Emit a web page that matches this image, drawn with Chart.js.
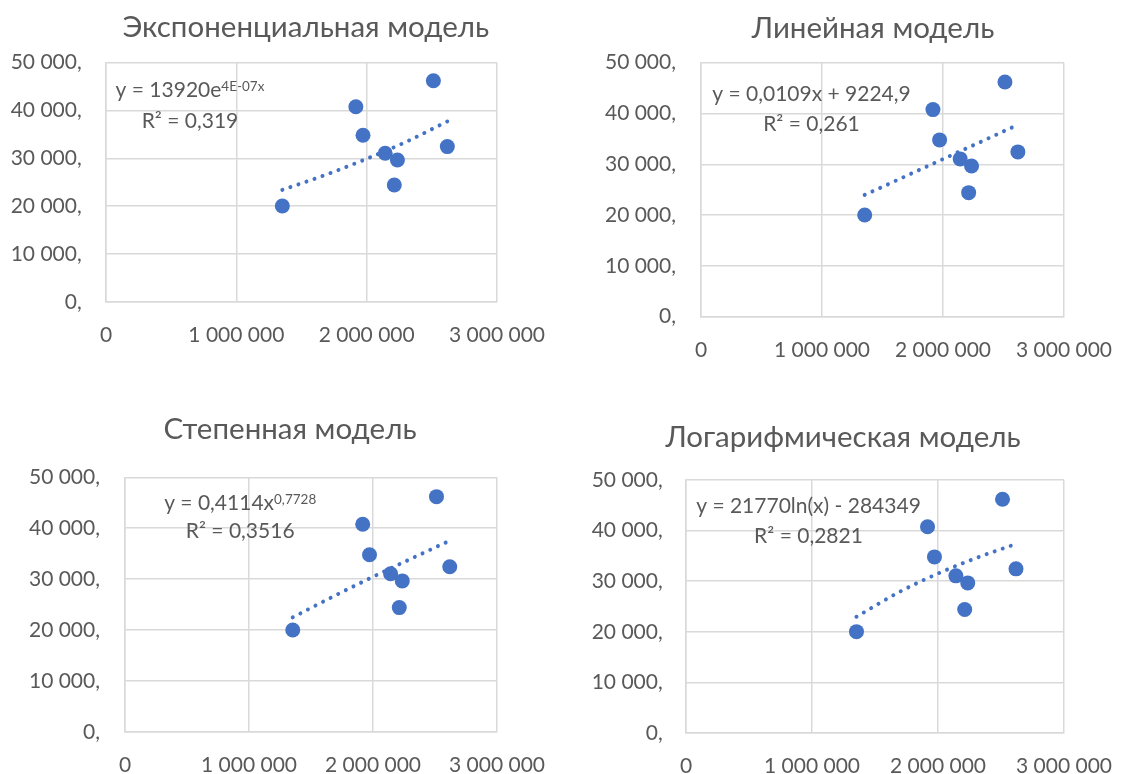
<!DOCTYPE html>
<html>
<head>
<meta charset="utf-8">
<title>Модели регрессии</title>
<script src="https://cdn.jsdelivr.net/npm/chart.js@4"></script>
<style>
  body { margin: 0; background: #fff; }
  .panel { position: absolute; }
</style>
</head>
<body>
<div class="panel" id="p1"><canvas id="c1"></canvas></div>
<div class="panel" id="p2"><canvas id="c2"></canvas></div>
<div class="panel" id="p3"><canvas id="c3"></canvas></div>
<div class="panel" id="p4"><canvas id="c4"></canvas></div>
<script>
// наблюдения (одни и те же для всех четырёх моделей)
const xValues = [1353000, 1917000, 1972000, 2142000, 2236000, 2212000, 2512000, 2619000];
const yValues = [20030, 40770, 34800, 31060, 29660, 24420, 46200, 32440];

const xTickLabels = ["0", "1 000 000", "2 000 000", "3 000 000"];
const yTickLabels = ["0,", "10 000,", "20 000,", "30 000,", "40 000,", "50 000,"];

const titles = ["Экспоненциальная модель", "Линейная модель", "Степенная модель", "Логарифмическая модель"];

// линии тренда
const expTrendX = [1353000, 1700000, 2000000, 2300000, 2619000];
const expTrendY = [23400, 26700, 29900, 33400, 37700];
const linTrendX = [1353000, 2619000];
const linTrendY = [23970, 37770];
const powTrendX = [1353000, 1700000, 2000000, 2300000, 2619000];
const powTrendY = [22510, 26860, 30460, 33940, 37560];
const logTrendX = [1353000, 1700000, 2000000, 2300000, 2619000];
const logTrendY = [22970, 27960, 31510, 34550, 37370];

// уравнения; всё после "^" пишется верхним индексом
const expEquation = ["y = 13920e^4E-07x", "R² = 0,319"];
const linEquation = ["y = 0,0109x + 9224,9", "R² = 0,261"];
const powEquation = ["y = 0,4114x^0,7728", "R² = 0,3516"];
const logEquation = ["y = 21770ln(x) - 284349", "R² = 0,2821"];

const FONT = 'Lato, "Noto Sans", sans-serif';
const TEXT = "#595959";
const GRID = "#D9D9D9";
const BLUE = "#4472C4";
const TICK_SIZE = 21;
const TITLE_SIZE = 29.5;
const SUP_SIZE = 13.5;

// размещение панелей: рамка, область построения, центр заголовка, центр уравнения
const panels = [
  { id: "c1", left: 0, top: 0, width: 566, height: 400,
    area: { left: 106, right: 515, top: 62.5, bottom: 302 },
    titleX: 305.8, titleY: 26.5, yLabelRight: 81.7, eqX: 190, eqY: [89.5, 120] },
  { id: "c2", left: 566, top: 0, width: 567, height: 400,
    area: { left: 135, right: 514, top: 62.7, bottom: 316.7 },
    titleX: 307, titleY: 27.8, yLabelRight: 110, eqX: 245.5, eqY: [93.3, 123.3] },
  { id: "c3", left: 0, top: 400, width: 566, height: 374,
    area: { left: 125, right: 504, top: 77.3, bottom: 332 },
    titleX: 290, titleY: 28.5, yLabelRight: 100, eqX: 240.2, eqY: [102.5, 130] },
  { id: "c4", left: 566, top: 400, width: 567, height: 374,
    area: { left: 120, right: 519, top: 80, bottom: 333 },
    titleX: 277, titleY: 36, yLabelRight: 96.7, eqX: 242.5, eqY: [105.7, 135] }
];

// заголовок панели и подпись уравнения тренда
const panelText = {
  id: "panelText",
  afterDraw(chart, args, opts) {
    const ctx = chart.ctx;
    ctx.save();
    ctx.fillStyle = TEXT;
    ctx.textBaseline = "alphabetic";

    ctx.font = TITLE_SIZE + "px " + FONT;
    ctx.textAlign = "center";
    ctx.fillText(opts.title, opts.titleX, opts.titleY + TITLE_SIZE * 0.36);

    ctx.textAlign = "left";
    opts.lines.forEach((line, i) => {
      const [main, sup] = line.split("^");
      ctx.font = TICK_SIZE + "px " + FONT;
      const w1 = ctx.measureText(main).width;
      ctx.font = SUP_SIZE + "px " + FONT;
      const w2 = sup ? ctx.measureText(sup).width : 0;
      const x = opts.x - (w1 + w2) / 2;
      const base = opts.y[i] + TICK_SIZE * 0.36;
      ctx.font = TICK_SIZE + "px " + FONT;
      ctx.fillText(main, x, base);
      if (sup) {
        ctx.font = SUP_SIZE + "px " + FONT;
        ctx.fillText(sup, x + w1, base - 6);
      }
    });
    ctx.restore();
  }
};

function points(xs, ys) {
  return xs.map((x, i) => ({ x: x, y: ys[i] }));
}

function drawPanel(p, title, trendX, trendY, equation) {
  const box = document.getElementById(p.id).parentNode;
  box.style.left = p.left + "px";
  box.style.top = p.top + "px";
  const canvas = document.getElementById(p.id);
  canvas.width = p.width;
  canvas.height = p.height;

  new Chart(canvas, {
    type: "scatter",
    data: {
      datasets: [
        {
          data: points(xValues, yValues),
          pointRadius: 7.5,
          pointHoverRadius: 7.5,
          backgroundColor: BLUE,
          borderColor: BLUE,
          borderWidth: 0
        },
        {
          data: points(trendX, trendY),
          showLine: true,
          pointRadius: 0,
          borderColor: BLUE,
          borderWidth: 4,
          borderDash: [0.01, 8.5],
          borderCapStyle: "round",
          cubicInterpolationMode: "monotone"
        }
      ]
    },
    options: {
      responsive: false,
      animation: false,
      layout: { padding: { left: 0, right: p.width - p.area.right, top: p.area.top, bottom: 0 } },
      plugins: {
        legend: { display: false },
        tooltip: { enabled: false },
        title: { display: false },
        panelText: {
          title: title, titleX: p.titleX, titleY: p.titleY,
          lines: equation, x: p.eqX, y: p.eqY
        }
      },
      scales: {
        x: {
          type: "linear",
          min: 0,
          max: 3000000,
          ticks: {
            stepSize: 1000000,
            maxRotation: 0,
            padding: 21,
            color: TEXT,
            font: { family: FONT, size: TICK_SIZE },
            callback: v => xTickLabels[Math.round(v / 1000000)]
          },
          grid: { color: GRID, lineWidth: 1.5, drawTicks: false },
          border: { color: GRID, width: 1.5 },
          afterFit: s => { s.height = p.height - p.area.bottom; }
        },
        y: {
          min: 0,
          max: 50000,
          ticks: {
            stepSize: 10000,
            padding: p.area.left - p.yLabelRight,
            color: TEXT,
            font: { family: FONT, size: TICK_SIZE },
            callback: v => yTickLabels[Math.round(v / 10000)]
          },
          grid: { color: GRID, lineWidth: 1.5, drawTicks: false },
          border: { color: GRID, width: 1.5 },
          afterFit: s => { s.width = p.area.left; }
        }
      }
    },
    plugins: [panelText]
  });
}

drawPanel(panels[0], titles[0], expTrendX, expTrendY, expEquation);
drawPanel(panels[1], titles[1], linTrendX, linTrendY, linEquation);
drawPanel(panels[2], titles[2], powTrendX, powTrendY, powEquation);
drawPanel(panels[3], titles[3], logTrendX, logTrendY, logEquation);
</script>
</body>
</html>
